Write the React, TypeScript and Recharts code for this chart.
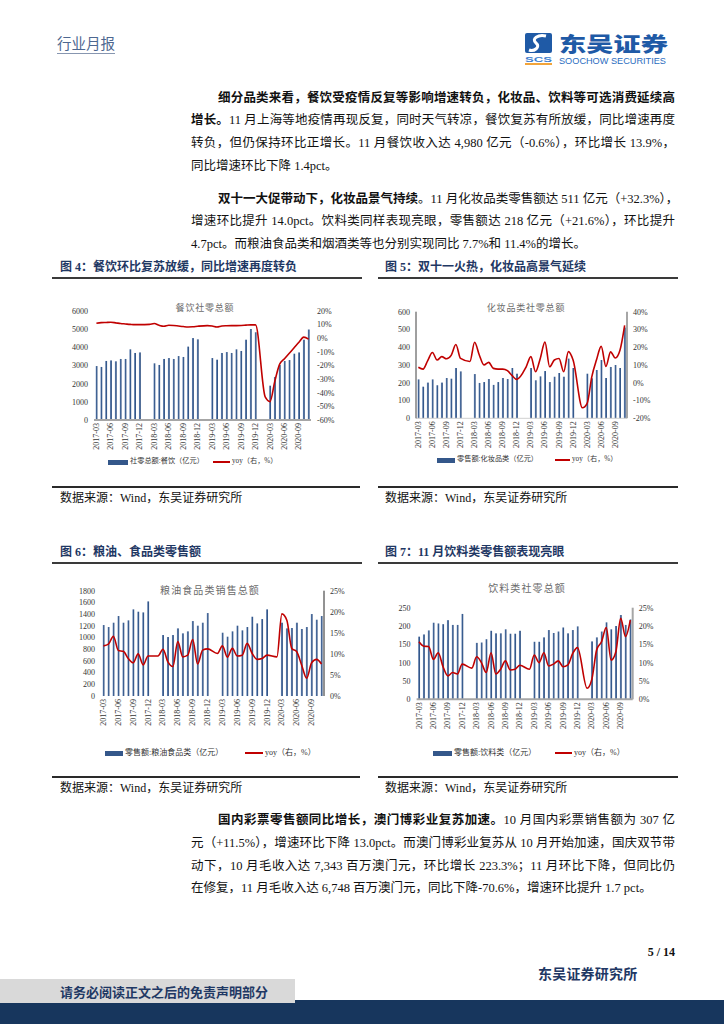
import React from "react";
import { Bar, ComposedChart, Line, XAxis, YAxis } from "recharts";

const months = [
  "2017-03", "2017-04", "2017-05", "2017-06", "2017-07", "2017-08", "2017-09", "2017-10", "2017-11", "2017-12",
  "2018-01", "2018-02", "2018-03", "2018-04", "2018-05", "2018-06", "2018-07", "2018-08", "2018-09", "2018-10", "2018-11", "2018-12",
  "2019-01", "2019-02", "2019-03", "2019-04", "2019-05", "2019-06", "2019-07", "2019-08", "2019-09", "2019-10", "2019-11", "2019-12",
  "2020-01", "2020-02", "2020-03", "2020-04", "2020-05", "2020-06", "2020-07", "2020-08", "2020-09", "2020-10", "2020-11",
];

// 图4 餐饮
const cateringSales = [
  2970, 2920, 3250, 3280, 3230, 3360, 3360, 3890, 3690, 3720,
  null, null, 3120, 3030, 3360, 3410, 3360, 3520, 3470, 4040, 4510, 4440,
  null, null, 3410, 3320, 3690, 3740, 3690, 3890, 3800, 4420, 5010, 4830,
  null, null, 1890, 2370, 3030, 3250, 3300, 3650, 3720, 4420, 4980,
];
const cateringYoy = [
  11.0, 11.5, 11.6, 11.7, 11.3, 10.8, 10.5, 10.2, 10.0, 10.0,
  null, 10.2, 10.8, 9.5, 8.8, 9.5, 9.4, 9.0, 8.6, 8.3, 8.4, 8.8,
  null, 9.3, 9.0, 8.3, 9.0, 9.2, 9.3, 9.3, 9.4, 9.6, 9.8, 9.8,
  null, -43.1, -46.5, -31.5, -19.0, -15.0, -11.0, -7.0, -2.9, 0.8, -0.6,
];

// 图5 化妆品
const cosmeticsSales = [
  219, 178, 201, 219, 186, 201, 227, 223, 283, 264,
  null, null, 249, 199, 204, 221, 188, 204, 227, 221, 283, 251,
  null, null, 283, 214, 236, 266, 204, 234, 255, 234, 336, 283,
  null, null, 251, 225, 272, 328, 227, 289, 300, 283, 511,
];
const cosmeticsYoy = [
  8.7, 7.7, 12.5, 17.0, 12.8, 14.7, 13.5, 15.4, 21.5, 13.7,
  null, 12.0, 22.8, 15.6, 10.0, 11.5, 8.1, 7.7, 7.7, 6.8, 4.0, 1.9,
  null, 9.0, 14.7, 6.2, 13.7, 22.9, 9.0, 12.8, 13.7, 6.2, 17.5, 12.8,
  null, -14.1, -11.6, 3.5, 12.9, 20.5, 9.2, 17.4, 13.9, 18.3, 32.3,
];

// 图6 粮油食品
const grainSales = [
  1213, 1179, 1253, 1367, 1253, 1293, 1481, 1441, 1429, 1617,
  null, null, 1042, 1008, 1042, 1156, 1071, 1105, 1281, 1202, 1253, 1418,
  null, null, 1082, 1014, 1105, 1202, 1122, 1179, 1355, 1241, 1315, 1481,
  null, null, 1253, 1156, 1162, 1253, 1145, 1179, 1401, 1304, 1367,
];
const grainYoy = [
  11.9, 12.3, 14.2, 10.8, 10.6, 8.9, 7.9, 10.0, 7.4, 9.5,
  null, 9.5, 11.1, 8.1, 7.0, 12.9, 9.3, 9.7, 13.4, 7.6, 10.9, 11.2,
  null, 10.1, 11.9, 9.2, 11.3, 9.5, 9.7, 12.5, 10.1, 8.7, 8.9, 9.7,
  null, 9.3, 19.5, 18.0, 11.3, 10.5, 7.3, 4.2, 7.9, 8.7, 7.6,
];

// 图7 饮料
const beverageSales = [
  171, 177, 188, 209, 207, 205, 216, 203, 203, 233,
  null, null, 154, 155, 164, 187, 180, 180, 191, 179, 179, 187,
  null, null, 157, 157, 169, 189, 181, 185, 196, 180, 189, 199,
  null, null, 158, 169, 185, 210, 191, 200, 230, 203, 218,
];
const beverageYoy = [
  15.7, 14.5, 14.4, 10.9, 12.7, 8.9, 6.4, 7.3, 6.9, 9.6,
  null, 8.5, 11.6, 10.0, 7.3, 12.7, 6.9, 8.2, 10.5, 8.0, 8.2, 9.3,
  null, 8.2, 12.1, 10.0, 12.7, 9.1, 9.6, 10.5, 8.9, 9.4, 12.5, 14.1,
  null, 3.0, 5.5, 13.5, 15.7, 19.6, 10.7, 13.0, 22.1, 17.1, 21.6,
];

const serif = "'Liberation Serif', 'Noto Sans CJK SC', serif";
const navy = "#1f3864";

type AxisLine = false | { stroke: string; strokeWidth: number };

interface ChartCfg {
  id: string;
  left: number;
  top: number;
  width: number;
  height: number;
  plotTop: number;
  leftW: number;
  rightW: number;
  xH: number;
  sales: (number | null)[];
  yoy: (number | null)[];
  leftDomain: [number, number];
  leftTicks: number[];
  rightDomain: [number, number];
  rightTicks: number[];
  title: string;
  titleX: number;
  titleY: number;
  titleSize: number;
  titleSpacing: number;
  legendY: number;
  legendBar: [number, number];
  legendBarText: string;
  legendLine: [number, number];
  legendSize: number;
  leftLine: AxisLine;
  rightLine: AxisLine;
  bottomLine: AxisLine;
}

function MonthTick(props: any) {
  const { x, y, payload } = props;
  return (
    <g transform={`translate(${x},${y})`}>
      <text
        transform="rotate(-90)"
        textAnchor="end"
        dominantBaseline="central"
        fontSize={8}
        fill="#333"
        fontFamily={serif}
      >
        {payload.value}
      </text>
    </g>
  );
}

function SalesChart({ cfg }: { cfg: ChartCfg }) {
  const data = months.map((m, i) => ({ m, sales: cfg.sales[i], yoy: cfg.yoy[i] }));
  const tickStyle = { fontSize: 8, fill: "#333", fontFamily: serif };
  const gid = `bar-${cfg.id}`;
  return (
    <div style={{ position: "absolute", left: cfg.left, top: cfg.top, width: cfg.width, height: cfg.height }}>
      <ComposedChart
        width={cfg.width}
        height={cfg.height}
        data={data}
        margin={{ top: cfg.plotTop, right: 0, bottom: 0, left: 0 }}
        barCategoryGap="30%"
      >
        <defs>
          <linearGradient id={gid} x1="0" y1="0" x2="1" y2="0">
            <stop offset="0" stopColor="#c3d1e6" />
            <stop offset="0.3" stopColor="#5373a3" />
            <stop offset="0.65" stopColor="#365a8d" />
            <stop offset="1" stopColor="#2d4c7c" />
          </linearGradient>
        </defs>
        <XAxis
          dataKey="m"
          interval={2}
          height={cfg.xH}
          tickSize={2}
          tickMargin={1}
          tickLine={false}
          axisLine={cfg.bottomLine}
          tick={(p: any) => <MonthTick {...p} />}
        />
        <YAxis
          yAxisId="l"
          width={cfg.leftW}
          domain={cfg.leftDomain}
          ticks={cfg.leftTicks}
          interval={0}
          tickSize={4}
          tickMargin={2}
          tickLine={false}
          axisLine={cfg.leftLine}
          tick={tickStyle}
        />
        <YAxis
          yAxisId="r"
          orientation="right"
          width={cfg.rightW}
          domain={cfg.rightDomain}
          ticks={cfg.rightTicks}
          interval={0}
          tickSize={4}
          tickMargin={2}
          tickLine={false}
          axisLine={cfg.rightLine}
          tick={{ ...tickStyle, textAnchor: "start" }}
          tickFormatter={(v: number) => `${v}%`}
        />
        <Bar yAxisId="l" dataKey="sales" fill={`url(#${gid})`} isAnimationActive={false} />
        <Line
          yAxisId="r"
          dataKey="yoy"
          type="monotone"
          stroke="#c00000"
          strokeWidth={1.6}
          dot={false}
          connectNulls
          isAnimationActive={false}
        />
      </ComposedChart>
      <div
        style={{
          position: "absolute",
          left: cfg.titleX - cfg.left - 80,
          width: 160,
          top: cfg.titleY - cfg.top - cfg.titleSize / 2,
          lineHeight: 1,
          textAlign: "center",
          fontSize: cfg.titleSize,
          letterSpacing: cfg.titleSpacing,
          color: "#6b6b6b",
          fontFamily: serif,
        }}
      >
        {cfg.title}
      </div>
      <div
        style={{
          position: "absolute",
          left: cfg.legendBar[0] - cfg.left,
          width: cfg.legendBar[1] - cfg.legendBar[0],
          top: cfg.legendY - cfg.top - 2.5,
          height: 5,
          background: "#34578a",
        }}
      />
      <div
        style={{
          position: "absolute",
          left: cfg.legendBar[1] - cfg.left + 2,
          top: cfg.legendY - cfg.top - cfg.legendSize / 2,
          lineHeight: 1,
          fontSize: cfg.legendSize,
          color: "#333",
          whiteSpace: "nowrap",
          fontFamily: serif,
        }}
      >
        {cfg.legendBarText}
      </div>
      <div
        style={{
          position: "absolute",
          left: cfg.legendLine[0] - cfg.left,
          width: cfg.legendLine[1] - cfg.legendLine[0],
          top: cfg.legendY - cfg.top - 1,
          height: 2,
          background: "#c00000",
        }}
      />
      <div
        style={{
          position: "absolute",
          left: cfg.legendLine[1] - cfg.left + 2,
          top: cfg.legendY - cfg.top - cfg.legendSize / 2,
          lineHeight: 1,
          fontSize: cfg.legendSize,
          color: "#333",
          whiteSpace: "nowrap",
          fontFamily: serif,
        }}
      >
        yoy（右，%）
      </div>
    </div>
  );
}

const grayLine = { stroke: "#a6a6a6", strokeWidth: 2 };

const charts: ChartCfg[] = [
  {
    id: "c4", left: 52, top: 283, width: 310, height: 200,
    plotTop: 28, leftW: 42, rightW: 51, xH: 63,
    sales: cateringSales, yoy: cateringYoy,
    leftDomain: [0, 6000], leftTicks: [0, 1000, 2000, 3000, 4000, 5000, 6000],
    rightDomain: [-60, 20], rightTicks: [-60, -50, -40, -30, -20, -10, 0, 10, 20],
    title: "餐饮社零总额", titleX: 205, titleY: 308, titleSize: 9, titleSpacing: 0.8,
    legendY: 462, legendBar: [108, 128], legendBarText: "社零总额:餐饮（亿元）",
    legendLine: [213, 230], legendSize: 7.2,
    leftLine: false, rightLine: false, bottomLine: grayLine,
  },
  {
    id: "c5", left: 378, top: 283, width: 300, height: 200,
    plotTop: 28.7, leftW: 38, rightW: 51, xH: 64.7,
    sales: cosmeticsSales, yoy: cosmeticsYoy,
    leftDomain: [0, 600], leftTicks: [0, 100, 200, 300, 400, 500, 600],
    rightDomain: [-20, 40], rightTicks: [-20, -10, 0, 10, 20, 30, 40],
    title: "化妆品类社零总额", titleX: 526, titleY: 308, titleSize: 9, titleSpacing: 0.8,
    legendY: 460, legendBar: [437, 455], legendBarText: "零售额:化妆品类（亿元）",
    legendLine: [555, 570], legendSize: 7.2,
    leftLine: { stroke: "#404040", strokeWidth: 1 }, rightLine: grayLine,
    bottomLine: { stroke: "#d0d0d0", strokeWidth: 1 },
  },
  {
    id: "c6", left: 52, top: 568, width: 310, height: 200,
    plotTop: 22.7, leftW: 49, rightW: 38, xH: 72,
    sales: grainSales, yoy: grainYoy,
    leftDomain: [0, 1800], leftTicks: [0, 200, 400, 600, 800, 1000, 1200, 1400, 1600, 1800],
    rightDomain: [0, 25], rightTicks: [0, 5, 10, 15, 20, 25],
    title: "粮油食品类销售总额", titleX: 210, titleY: 591, titleSize: 10, titleSpacing: 1.1,
    legendY: 753, legendBar: [105, 123], legendBarText: "零售额:粮油食品类（亿元）",
    legendLine: [245, 263], legendSize: 8,
    leftLine: false, rightLine: { stroke: "#262626", strokeWidth: 1 }, bottomLine: false,
  },
  {
    id: "c7", left: 378, top: 568, width: 300, height: 200,
    plotTop: 39.7, leftW: 38.6, rightW: 45.3, xH: 68.7,
    sales: beverageSales, yoy: beverageYoy,
    leftDomain: [0, 250], leftTicks: [0, 50, 100, 150, 200, 250],
    rightDomain: [0, 25], rightTicks: [0, 5, 10, 15, 20, 25],
    title: "饮料类社零总额", titleX: 527, titleY: 589, titleSize: 10, titleSpacing: 1.1,
    legendY: 753, legendBar: [433, 452], legendBarText: "零售额:饮料类（亿元）",
    legendLine: [555, 572], legendSize: 8,
    leftLine: false, rightLine: grayLine, bottomLine: grayLine,
  },
];

const para1 = [
  [{ b: "细分品类来看，餐饮受疫情反复等影响增速转负，化妆品、饮料等可选消费延续高" }],
  [{ b: "增长。" }, { t: "11 月上海等地疫情再现反复，同时天气转凉，餐饮复苏有所放缓，同比增速再度" }],
  [{ t: "转负，但仍保持环比正增长。11 月餐饮收入达 4,980 亿元（-0.6%），环比增长 13.9%，" }],
  [{ t: "同比增速环比下降 1.4pct。" }],
];
const para2 = [
  [{ b: "双十一大促带动下，化妆品景气持续" }, { t: "。11 月化妆品类零售额达 511 亿元（+32.3%），" }],
  [{ t: "增速环比提升 14.0pct。饮料类同样表现亮眼，零售额达 218 亿元（+21.6%），环比提升" }],
  [{ t: "4.7pct。而粮油食品类和烟酒类等也分别实现同比 7.7%和 11.4%的增长。" }],
];
const para3 = [
  [{ b: "国内彩票零售额同比增长，澳门博彩业复苏加速。" }, { t: "10 月国内彩票销售额为 307 亿" }],
  [{ t: "元（+11.5%），增速环比下降 13.0pct。而澳门博彩业复苏从 10 月开始加速，国庆双节带" }],
  [{ t: "动下，10 月毛收入达 7,343 百万澳门元，环比增长 223.3%；11 月环比下降，但同比仍" }],
  [{ t: "在修复，11 月毛收入达 6,748 百万澳门元，同比下降-70.6%，增速环比提升 1.7 pct。" }],
];

type Seg = { b?: string; t?: string };

function Paragraph({ lines, top }: { lines: Seg[][]; top: number }) {
  return (
    <div style={{ position: "absolute", left: 191, top, width: 484, fontSize: 12.5, fontFamily: serif, color: "#111" }}>
      {lines.map((segs, i) => {
        const last = i === lines.length - 1;
        return (
          <div
            key={i}
            style={{
              height: 22.7,
              lineHeight: "22.7px",
              paddingLeft: i === 0 ? 27 : 0,
              textAlign: "justify",
              textAlignLast: last ? "left" : "justify",
              whiteSpace: "nowrap",
              overflow: "visible",
            }}
          >
            {segs.map((s, j) =>
              s.b ? (
                <span key={j} style={{ fontWeight: 700 }}>{s.b}</span>
              ) : (
                <span key={j}>{s.t}</span>
              ),
            )}
          </div>
        );
      })}
    </div>
  );
}

function FigTitle({ x, y, text, lineX0, lineX1 }: { x: number; y: number; text: string; lineX0: number; lineX1: number }) {
  return (
    <>
      <div
        style={{
          position: "absolute",
          left: x,
          top: y - 6,
          lineHeight: 1,
          fontSize: 12,
          fontWeight: 700,
          color: navy,
          fontFamily: serif,
          whiteSpace: "nowrap",
        }}
      >
        {text}
      </div>
      <div style={{ position: "absolute", left: lineX0, top: y + 10, width: lineX1 - lineX0, height: 2, background: "#3a3a3a" }} />
    </>
  );
}

function Source({ x, y, lineX0, lineX1 }: { x: number; y: number; lineX0: number; lineX1: number }) {
  return (
    <>
      <div style={{ position: "absolute", left: lineX0, top: y - 12, width: lineX1 - lineX0, height: 1.5, background: "#2a2a2a" }} />
      <div
        style={{
          position: "absolute",
          left: x,
          top: y - 6,
          lineHeight: 1,
          fontSize: 12,
          color: "#111",
          fontFamily: serif,
          whiteSpace: "nowrap",
        }}
      >
        数据来源：Wind，东吴证券研究所
      </div>
    </>
  );
}

export default function App() {
  return (
    <div
      style={{
        position: "absolute",
        left: 0,
        top: 0,
        width: 724,
        height: 1024,
        background: "#fff",
        overflow: "hidden",
        fontFamily: serif,
      }}
    >
      {/* header */}
      <div
        style={{
          position: "absolute",
          left: 57,
          top: 37,
          fontSize: 14.5,
          lineHeight: 1,
          color: "#4d6790",
          paddingBottom: 1,
          borderBottom: "1.5px solid #8796b0",
        }}
      >
        行业月报
      </div>
      <svg width={150} height={40} style={{ position: "absolute", left: 522, top: 28 }}>
        <rect x={3} y={5} width={27} height={20} rx={2} fill="#1f5aa6" />
        <path d="M 24 8 C 16 6, 9 11, 14 15 C 19 19, 12 24, 7 22" stroke="#fff" strokeWidth={3} fill="none" />
        <text x={3} y={34} fontSize={7.5} fontWeight={700} fill="#3f7fcf" textLength={27} lengthAdjust="spacingAndGlyphs" fontFamily="'Liberation Sans', sans-serif">
          SCS
        </text>
        <rect x={3} y={35} width={27} height={2} fill="#f2a43a" />
        <text x={37} y={23.5} fontSize={20} fontWeight={900} fill="#1f5aa6" textLength={109} lengthAdjust="spacingAndGlyphs" fontFamily="'Noto Sans CJK SC', sans-serif">
          东吴证券
        </text>
        <text x={37} y={36} fontSize={8.5} fill="#2a6cc0" textLength={107} lengthAdjust="spacingAndGlyphs" fontFamily="'Liberation Sans', sans-serif">
          SOOCHOW SECURITIES
        </text>
      </svg>

      <Paragraph lines={para1} top={86.6} />
      <Paragraph lines={para2} top={187.6} />

      <FigTitle x={60} y={267} text="图 4：餐饮环比复苏放缓，同比增速再度转负" lineX0={52} lineX1={362} />
      <FigTitle x={385} y={267} text="图 5：双十一火热，化妆品高景气延续" lineX0={378} lineX1={678} />
      <SalesChart cfg={charts[0]} />
      <SalesChart cfg={charts[1]} />
      <Source x={60} y={498} lineX0={52} lineX1={360} />
      <Source x={385} y={498} lineX0={378} lineX1={678} />

      <FigTitle x={60} y={552} text="图 6：粮油、食品类零售额" lineX0={52} lineX1={362} />
      <FigTitle x={385} y={552} text="图 7：11 月饮料类零售额表现亮眼" lineX0={378} lineX1={678} />
      <SalesChart cfg={charts[2]} />
      <SalesChart cfg={charts[3]} />
      <Source x={60} y={788} lineX0={52} lineX1={360} />
      <Source x={385} y={788} lineX0={378} lineX1={678} />

      <Paragraph lines={para3} top={809.3} />

      <div style={{ position: "absolute", right: 724 - 675, top: 946, fontSize: 12, fontWeight: 700, lineHeight: 1, color: "#111" }}>
        5 / 14
      </div>
      <div style={{ position: "absolute", left: 538, top: 968, fontSize: 14, fontWeight: 700, lineHeight: 1, color: navy, letterSpacing: 0.2 }}>
        东吴证券研究所
      </div>
      <div style={{ position: "absolute", left: 0, top: 1000, width: 724, height: 24, background: "#17365d" }} />
      <div style={{ position: "absolute", left: 0, top: 979, width: 295, height: 24, background: "#d9d9d9" }} />
      <div style={{ position: "absolute", left: 60, top: 985.5, fontSize: 13, fontWeight: 700, lineHeight: 1, color: navy }}>
        请务必阅读正文之后的免责声明部分
      </div>
    </div>
  );
}
